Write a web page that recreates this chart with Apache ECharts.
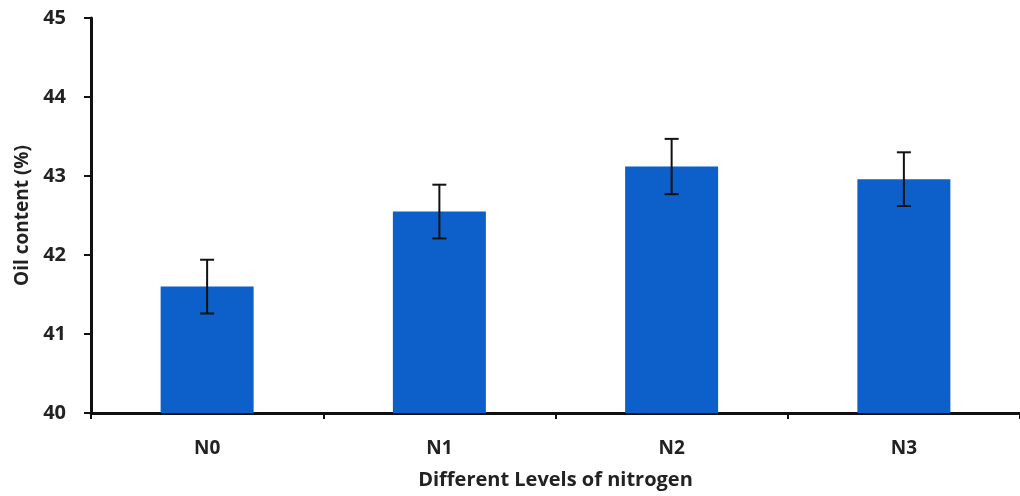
<!DOCTYPE html>
<html><head><meta charset="utf-8">
<script src="https://cdn.jsdelivr.net/npm/echarts@6/dist/echarts.min.js"></script>
<style>html,body{margin:0;padding:0;background:#fff}#c{width:1020px;height:496px}</style>
</head><body><div id="c"></div>
<script>
const categories = ['N0', 'N1', 'N2', 'N3'];
const oilContent = [41.6, 42.55, 43.12, 42.96];
const errorSize = [0.34, 0.34, 0.35, 0.34];
const yTicks = [40, 41, 42, 43, 44, 45];

const chart = echarts.init(document.getElementById('c'));
const font = 'Open Sans';
chart.setOption({
  animation: false,
  backgroundColor: '#fff',
  grid: { left: 91, top: 18, width: 931, bottom: 83, containLabel: false },
  xAxis: {
    type: 'category', data: categories,
    name: 'Different Levels of nitrogen', nameLocation: 'middle', nameGap: 57,
    nameTextStyle: { fontFamily: font, fontWeight: 'bold', fontSize: 20, color: '#222' },
    axisLine: { lineStyle: { color: '#111', width: 3 } },
    axisTick: { show: true, length: 6, lineStyle: { color: '#111', width: 2 } },
    axisLabel: { fontFamily: font, fontWeight: 'bold', fontSize: 19, color: '#222', margin: 26 },
    splitLine: { show: false }
  },
  yAxis: {
    type: 'value', min: yTicks[0], max: yTicks[yTicks.length - 1], interval: 1,
    name: 'Oil content (%)', nameLocation: 'middle', nameGap: 55, nameRotate: 90,
    nameTextStyle: { fontFamily: font, fontWeight: 'bold', fontSize: 19, color: '#222' },
    axisLine: { show: true, lineStyle: { color: '#111', width: 3 } },
    axisTick: { show: true, length: 7, lineStyle: { color: '#111', width: 2 } },
    axisLabel: { fontFamily: font, fontWeight: 'bold', fontSize: 20, color: '#222', margin: 25 },
    splitLine: { show: false }
  },
  series: [
    {
      type: 'bar', data: oilContent, barWidth: 93,
      itemStyle: { color: '#0d5fc9' }
    },
    {
      type: 'custom', z: 10,
      data: categories.map((c, i) => [i, oilContent[i] - errorSize[i], oilContent[i] + errorSize[i]]),
      renderItem: function (params, api) {
        const lo = api.coord([api.value(0), api.value(1)]);
        const hi = api.coord([api.value(0), api.value(2)]);
        const hw = 7;
        const st = { stroke: '#111', lineWidth: 2 };
        return { type: 'group', children: [
          { type: 'line', shape: { x1: hi[0], y1: hi[1], x2: lo[0], y2: lo[1] }, style: st },
          { type: 'line', shape: { x1: hi[0] - hw, y1: hi[1], x2: hi[0] + hw, y2: hi[1] }, style: st },
          { type: 'line', shape: { x1: lo[0] - hw, y1: lo[1], x2: lo[0] + hw, y2: lo[1] }, style: st }
        ]};
      }
    }
  ]
});
</script></body></html>
